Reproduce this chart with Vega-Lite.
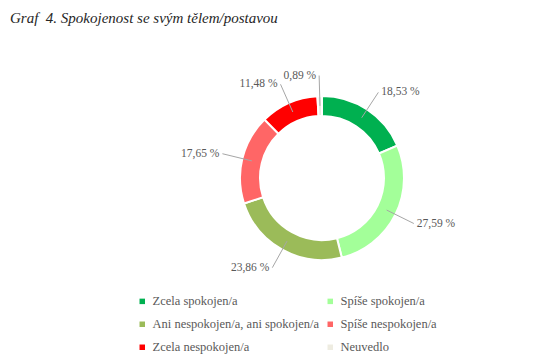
{
  "$schema": "https://vega.github.io/schema/vega-lite/v6.json",
  "autosize": {"type": "none"},
  "padding": {"left": 172, "top": 28, "right": 71, "bottom": 34},
  "width": 300,
  "height": 300,
  "background": "white",
  "title": {
    "text": "Graf\u00a0 4. Spokojenost se svým tělem/postavou",
    "anchor": "start",
    "frame": "group",
    "dx": -162,
    "dy": 18,
    "offset": 8,
    "baseline": "alphabetic",
    "font": "Liberation Serif",
    "fontStyle": "italic",
    "fontWeight": "normal",
    "fontSize": 15,
    "color": "#262626"
  },
  "config": {"view": {"stroke": null}},
  "data": {
    "values": [
      {"kategorie": "Zcela spokojen/a", "podil": 18.53, "poradi": 1, "popisek": "18,53 %"},
      {"kategorie": "Spíše spokojen/a", "podil": 27.59, "poradi": 2, "popisek": "27,59 %"},
      {"kategorie": "Ani nespokojen/a, ani spokojen/a", "podil": 23.86, "poradi": 3, "popisek": "23,86 %"},
      {"kategorie": "Spíše nespokojen/a", "podil": 17.65, "poradi": 4, "popisek": "17,65 %"},
      {"kategorie": "Zcela nespokojen/a", "podil": 11.48, "poradi": 5, "popisek": "11,48 %"},
      {"kategorie": "Neuvedlo", "podil": 0.89, "poradi": 6, "popisek": "0,89 %"}
    ]
  },
  "layer": [
    {
      "mark": {"type": "arc", "innerRadius": 62, "outerRadius": 82, "stroke": "white", "strokeWidth": 2},
      "encoding": {
        "theta": {"field": "podil", "type": "quantitative", "stack": true},
        "order": {"field": "poradi", "type": "quantitative"},
        "color": {
          "field": "kategorie",
          "type": "nominal",
          "scale": {
            "domain": ["Zcela spokojen/a", "Spíše spokojen/a", "Ani nespokojen/a, ani spokojen/a", "Spíše nespokojen/a", "Zcela nespokojen/a", "Neuvedlo"],
            "range": ["#00B050", "#A3FF99", "#9BBB59", "#FF6666", "#FF0000", "#EEECE1"]
          },
          "legend": {
            "orient": "none",
            "legendX": -36,
            "legendY": 267,
            "columns": 2,
            "direction": "horizontal",
            "title": null,
            "symbolType": "square",
            "symbolSize": 30,
            "symbolStrokeWidth": 0,
            "labelFont": "Liberation Serif",
            "labelFontSize": 12.5,
            "labelColor": "#595959",
            "labelOffset": 4,
            "rowPadding": 10,
            "columnPadding": 4,
            "labelLimit": 300,
            "padding": 0
          }
        }
      }
    },
    {
      "transform": [
        {"window": [{"op": "sum", "field": "podil", "as": "kum"}], "sort": [{"field": "poradi"}], "frame": [null, 0]},
        {"calculate": "(datum.kum - datum.podil / 2) / 100 * 2 * PI", "as": "uhel"},
        {"calculate": "0.88 * sin(datum.uhel)", "as": "xa"},
        {"calculate": "0.88 * cos(datum.uhel)", "as": "ya"},
        {"calculate": "1.25 * sin(datum.uhel)", "as": "xb"},
        {"calculate": "1.25 * cos(datum.uhel)", "as": "yb"}
      ],
      "mark": {"type": "rule", "color": "#A6A6A6", "strokeWidth": 1},
      "encoding": {
        "x": {"field": "xa", "type": "quantitative", "scale": {"domain": [-1.8293, 1.8293]}, "axis": null},
        "y": {"field": "ya", "type": "quantitative", "scale": {"domain": [-1.8293, 1.8293]}, "axis": null},
        "x2": {"field": "xb"},
        "y2": {"field": "yb"}
      }
    },
    {
      "transform": [
        {"window": [{"op": "sum", "field": "podil", "as": "kum"}], "sort": [{"field": "poradi"}], "frame": [null, 0]},
        {"calculate": "(datum.kum - datum.podil / 2) / 100 * 2 * PI", "as": "uhel"},
        {"calculate": "1.25 * sin(datum.uhel)", "as": "xb"},
        {"calculate": "1.25 * cos(datum.uhel)", "as": "yb"},
        {"filter": "datum.xb >= 0"}
      ],
      "mark": {"type": "text", "align": "left", "baseline": "middle", "dx": 3, "font": "Liberation Serif", "fontSize": 11.5, "color": "#595959"},
      "encoding": {
        "x": {"field": "xb", "type": "quantitative", "scale": {"domain": [-1.8293, 1.8293]}, "axis": null},
        "y": {"field": "yb", "type": "quantitative", "scale": {"domain": [-1.8293, 1.8293]}, "axis": null},
        "text": {"field": "popisek", "type": "nominal"}
      }
    },
    {
      "transform": [
        {"window": [{"op": "sum", "field": "podil", "as": "kum"}], "sort": [{"field": "poradi"}], "frame": [null, 0]},
        {"calculate": "(datum.kum - datum.podil / 2) / 100 * 2 * PI", "as": "uhel"},
        {"calculate": "1.25 * sin(datum.uhel)", "as": "xb"},
        {"calculate": "1.25 * cos(datum.uhel)", "as": "yb"},
        {"filter": "datum.xb < 0"}
      ],
      "mark": {"type": "text", "align": "right", "baseline": "middle", "dx": -3, "font": "Liberation Serif", "fontSize": 11.5, "color": "#595959"},
      "encoding": {
        "x": {"field": "xb", "type": "quantitative", "scale": {"domain": [-1.8293, 1.8293]}, "axis": null},
        "y": {"field": "yb", "type": "quantitative", "scale": {"domain": [-1.8293, 1.8293]}, "axis": null},
        "text": {"field": "popisek", "type": "nominal"}
      }
    }
  ]
}
